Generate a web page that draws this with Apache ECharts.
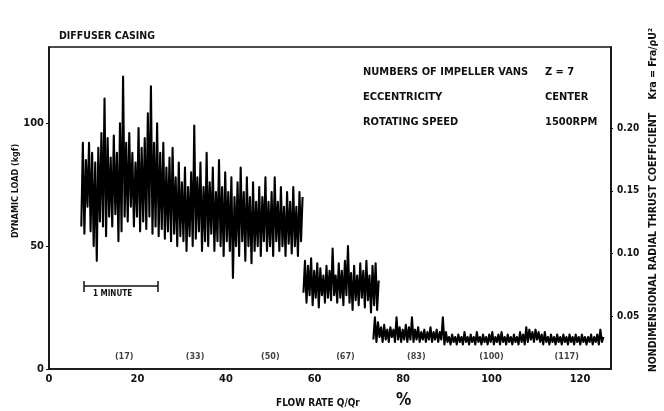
<!DOCTYPE html>
<html>
<head>
<meta charset="utf-8">
<script src="https://cdn.jsdelivr.net/npm/echarts@6/dist/echarts.min.js"></script>
<style>html,body{margin:0;padding:0;background:#fff}#c{width:664px;height:411px}</style>
</head>
<body>
<div id="c"></div>
<script>
// ---- data (dynamic load, kgf) ----
var xTicks = [0, 20, 40, 60, 80, 100, 120];
var yTicks = [0, 50, 100];
var rightTicks = [0.05, 0.10, 0.15, 0.20];
var flowMarks = [17, 33, 50, 67, 83, 100, 117];
var flowMarkLoad = 5;

// trace segments: start / end flow-rate and sampled load values (alternating low/high of the trace)
var seg1Range = [7.3, 57.3];
var seg1 = [58,92, 55,85, 66,92, 56,88, 50,84, 44,90, 60,96, 58,110, 54,94, 62,86,
  58,95, 63,88, 52,100, 56,119, 62,92, 60,96, 66,88, 58,84, 62,98, 56,90,
  60,94, 57,104, 62,115, 55,92, 58,100, 54,88, 57,92, 53,82, 56,86, 52,90,
  55,78, 50,84, 54,76, 52,82, 48,74, 54,80, 50,99, 53,78, 56,84, 48,74,
  52,88, 50,76, 55,82, 48,72, 52,85, 50,74, 46,80, 52,72, 48,78, 37,70,
  50,76, 46,82, 52,72, 44,78, 50,70, 43,76, 48,68, 50,74, 46,70, 52,78,
  48,68, 50,72, 46,78, 52,68, 48,74, 50,66, 46,72, 51,68, 47,74, 50,66,
  46,72, 52,70];
var seg2Range = [57.5, 74.5];
var seg2 = [31,44, 27,42, 30,45, 26,40, 29,43, 25,41, 30,38, 27,42, 29,40, 28,49,
  30,38, 27,43, 29,40, 26,44, 30,50, 27,39, 24,42, 28,38, 26,43, 29,40,
  25,44, 28,38, 23,42, 26,43, 24,36];
var seg3Range = [73.3, 125.3];
var seg3 = [12,21, 11,19, 13,17, 11,18, 12,16, 11,17, 13,16, 11,21, 12,17, 11,16,
  12,18, 11,17, 12,21, 11,16, 12,17, 11,15, 12,16, 11,15, 12,17, 11,15,
  12,16, 11,15, 12,21, 10,15, 11,13, 10,14, 11,13, 10,14, 11,13, 10,15,
  11,13, 10,14, 11,13, 10,15, 11,13, 10,14, 11,13, 10,14, 11,15, 10,13,
  11,14, 10,15, 11,13, 10,14, 11,13, 10,14, 11,13, 10,15, 11,14, 10,17,
  11,16, 12,15, 11,16, 12,15, 11,14, 10,15, 11,13, 10,14, 11,13, 10,14,
  11,13, 10,14, 11,13, 10,14, 11,13, 10,14, 11,13, 10,14, 11,13, 10,13,
  11,14, 10,13, 11,14, 10,16, 11,13];

function toPoints(range, vals) {
  var n = vals.length, out = [];
  for (var i = 0; i < n; i++) out.push([range[0] + (range[1] - range[0]) * i / (n - 1), vals[i]]);
  return out;
}

var FONT = "'Liberation Sans Narrow','DejaVu Sans Condensed','Liberation Sans',sans-serif";
var chart = echarts.init(document.getElementById('c'), null, {renderer: 'canvas'});

function traceSeries(range, vals) {
  return {
    type: 'line', xAxisIndex: 0, yAxisIndex: 0, data: toPoints(range, vals),
    symbol: 'none', silent: true, animation: false,
    lineStyle: {color: '#000', width: 2.1, join: 'round'}
  };
}

chart.setOption({
  backgroundColor: '#fff',
  animation: false,
  grid: {left: 49, right: 53, top: 47, bottom: 42, show: true, borderColor: '#111', borderWidth: 1.6},
  xAxis: {
    type: 'value', min: 0, max: 127,
    axisLine: {show: true, lineStyle: {color: '#111', width: 1.6}},
    axisTick: {show: false},
    splitLine: {show: false},
    axisLabel: {customValues: xTicks, color: '#111', fontFamily: FONT, fontWeight: 'bold', fontSize: 11, margin: 5}
  },
  yAxis: [{
    type: 'value', min: 0, max: 131,
    axisLine: {show: true, lineStyle: {color: '#111', width: 1.6}},
    axisTick: {show: true, customValues: yTicks, length: 3, lineStyle: {color: '#111'}},
    splitLine: {show: false},
    axisLabel: {customValues: yTicks, color: '#111', fontFamily: FONT, fontWeight: 'bold', fontSize: 11, margin: 5}
  }, {
    type: 'value', min: 0.0078, max: 0.2647, position: 'right',
    axisLine: {show: true, lineStyle: {color: '#111', width: 1.6}},
    axisTick: {show: true, customValues: rightTicks, length: 2, lineStyle: {color: '#111'}},
    splitLine: {show: false},
    axisLabel: {customValues: rightTicks, color: '#111', fontFamily: FONT, fontWeight: 'bold', fontSize: 10, margin: 6,
      formatter: function (v) { return v.toFixed(2); }}
  }],
  series: [
    traceSeries(seg1Range, seg1),
    traceSeries(seg2Range, seg2),
    traceSeries(seg3Range, seg3),
    {
      type: 'scatter', data: flowMarks.map(function (v) { return [v, flowMarkLoad]; }),
      symbolSize: 0, silent: true,
      label: {show: true, position: 'inside', color: '#111', fontFamily: FONT, fontWeight: 'bold', fontSize: 9,
        formatter: function (p) { return '(' + p.value[0] + ')'; }}
    }
  ],
  graphic: [
    {type: 'text', left: 59, top: 31, style: {text: 'DIFFUSER CASING', fill: '#111', font: 'bold 10.5px ' + FONT}},
    {type: 'text', left: 363, top: 67, style: {text: 'NUMBERS OF IMPELLER VANS', fill: '#111', font: 'bold 11px ' + FONT}},
    {type: 'text', left: 545, top: 67, style: {text: 'Z = 7', fill: '#111', font: 'bold 11px ' + FONT}},
    {type: 'text', left: 363, top: 92, style: {text: 'ECCENTRICITY', fill: '#111', font: 'bold 11px ' + FONT}},
    {type: 'text', left: 545, top: 92, style: {text: 'CENTER', fill: '#111', font: 'bold 11px ' + FONT}},
    {type: 'text', left: 363, top: 117, style: {text: 'ROTATING SPEED', fill: '#111', font: 'bold 11px ' + FONT}},
    {type: 'text', left: 545, top: 117, style: {text: '1500RPM', fill: '#111', font: 'bold 11px ' + FONT}},
    // 1 minute scale bar
    {type: 'line', shape: {x1: 84, y1: 286, x2: 158, y2: 286}, style: {stroke: '#111', lineWidth: 1.5}},
    {type: 'line', shape: {x1: 84, y1: 281, x2: 84, y2: 292}, style: {stroke: '#111', lineWidth: 1.5}},
    {type: 'line', shape: {x1: 158, y1: 281, x2: 158, y2: 292}, style: {stroke: '#111', lineWidth: 1.5}},
    {type: 'text', left: 93, top: 290, style: {text: '1 MINUTE', fill: '#111', font: 'bold 8px ' + FONT}},
    // axis names
    {type: 'text', x: 16, y: 191, rotation: Math.PI / 2,
      style: {text: 'DYNAMIC LOAD (kgf)', fill: '#111', font: 'bold 9px ' + FONT, align: 'center', verticalAlign: 'middle'}},
    {type: 'text', x: 653, y: 200, rotation: Math.PI / 2,
      style: {text: 'NONDIMENSIONAL RADIAL THRUST COEFFICIENT    Kra = Fra/\u03C1U\u00B2', fill: '#111', font: 'bold 10.5px ' + FONT, align: 'center', verticalAlign: 'middle'}},
    {type: 'text', left: 276, top: 398, style: {text: 'FLOW RATE Q/Qr', fill: '#111', font: 'bold 10px ' + FONT}},
    {type: 'text', left: 396, top: 392, style: {text: '%', fill: '#111', font: 'bold 17px ' + FONT}}
  ]
});
</script>
</body>
</html>
